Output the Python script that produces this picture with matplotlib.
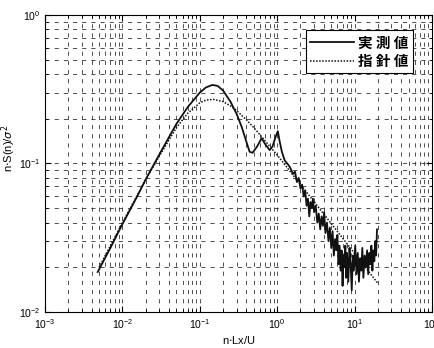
import matplotlib
matplotlib.use("Agg")
import matplotlib.pyplot as plt
from matplotlib.ticker import LogLocator, NullFormatter

plt.rcParams['font.family'] = ['Liberation Sans', 'Noto Sans CJK JP', 'DejaVu Sans']

# measured spectrum (実測値)
meas_x = [0.0048, 0.007, 0.01, 0.015, 0.02, 0.03, 0.05, 0.07, 0.1, 0.12, 0.145, 0.17,
          0.2, 0.25, 0.3, 0.35, 0.4, 0.44, 0.48, 0.55, 0.63, 0.7, 0.8, 0.87, 0.95,
          1.02, 1.08, 1.15, 1.25, 1.35, 1.45,
          1.5, 1.6, 1.7, 1.8, 1.9, 2.0, 2.1, 2.2, 2.3, 2.4, 2.5, 2.6, 2.7, 2.8, 2.9,
          3.0, 3.15, 3.3, 3.45, 3.6, 3.75, 3.9, 4.05, 4.2, 4.4, 4.6, 4.8, 5.0, 5.2,
          5.4, 5.6, 5.8, 6.0, 6.2, 6.4, 6.6, 6.8, 7.0, 7.2, 7.4, 7.6, 7.8, 8.0, 8.3,
          8.6, 8.9, 9.2, 9.5, 9.8, 10.2, 10.6, 11.0, 11.4, 11.8, 12.2, 12.6, 13.0,
          13.5, 14.0, 14.5, 15.0, 15.5, 16.0, 16.5, 17.0, 17.5, 18.0, 18.5, 19.0, 19.5]
meas_y = [0.0186, 0.027, 0.039, 0.058, 0.078, 0.115, 0.185, 0.24, 0.30, 0.325, 0.338, 0.333,
          0.31, 0.26, 0.215, 0.175, 0.14, 0.12, 0.118, 0.13, 0.148, 0.135, 0.123, 0.13, 0.15,
          0.165, 0.14, 0.12, 0.105, 0.10, 0.095,
          0.092, 0.085, 0.088, 0.075, 0.080, 0.068, 0.072, 0.060, 0.066, 0.052, 0.058, 0.044,
          0.055, 0.050, 0.058, 0.047, 0.052, 0.040, 0.046, 0.036, 0.044, 0.038, 0.047, 0.034,
          0.040, 0.030, 0.037, 0.027, 0.035, 0.024, 0.031, 0.026, 0.033, 0.021, 0.028, 0.019,
          0.026, 0.015, 0.024, 0.020, 0.028, 0.017, 0.025, 0.016, 0.027, 0.021, 0.014, 0.024,
          0.019, 0.028, 0.018, 0.025, 0.016, 0.023, 0.019, 0.027, 0.017, 0.024, 0.020, 0.026,
          0.018, 0.025, 0.021, 0.028, 0.019, 0.026, 0.022, 0.030, 0.024, 0.036]

# guideline spectrum (指針値)
guide_x = [0.005, 0.01, 0.02, 0.03, 0.05, 0.07, 0.1, 0.12, 0.15, 0.2, 0.25, 0.3, 0.4,
           0.5, 0.7, 1.0, 1.5, 2.0, 3.0, 5.0, 10.0, 20.0]
guide_y = [0.020, 0.0398, 0.0778, 0.112, 0.1745, 0.218, 0.256, 0.267, 0.270, 0.261, 0.244,
           0.227, 0.197, 0.174, 0.142, 0.114, 0.0873, 0.0723, 0.0553, 0.0394, 0.0248, 0.0156]

legend_labels = ['実 測 値', '指 針 値']
xlabel = 'n$\\cdot$Lx/U'
ylabel = 'n$\\cdot$S(n)/$\\sigma^2$'

fig = plt.figure(figsize=(4.35, 3.48), dpi=100)
ax = fig.add_axes([0.1034, 0.1034, 0.8896, 0.8536])

ax.plot(meas_x, meas_y, color='#111111', lw=1.3, ls='-', label=legend_labels[0])
ax.plot(guide_x, guide_y, color='#111111', lw=1.1, ls=(0, (1, 1)), label=legend_labels[1])

ax.set_xscale('log')
ax.set_yscale('log')
ax.set_xlim(1e-3, 1e2)
ax.set_ylim(1e-2, 1e0)

ax.xaxis.set_major_locator(LogLocator(base=10, numticks=10))
ax.xaxis.set_minor_locator(LogLocator(base=10, subs=range(2, 10), numticks=20))
ax.yaxis.set_major_locator(LogLocator(base=10, numticks=10))
ax.yaxis.set_minor_locator(LogLocator(base=10, subs=range(2, 10), numticks=20))
ax.xaxis.set_minor_formatter(NullFormatter())
ax.yaxis.set_minor_formatter(NullFormatter())

ax.grid(True, which='both', color='#333333', lw=0.6, ls=(0, (5, 6)))
ax.tick_params(which='both', direction='in', top=True, right=True, labelsize=7.5,
               colors='black')
ax.tick_params(axis='x', which='both', pad=4)
ax.tick_params(axis='y', which='both', pad=3)
ax.tick_params(which='major', length=4)
ax.tick_params(which='minor', length=2)
for s in ax.spines.values():
    s.set_linewidth(0.8)

ax.set_xlabel(xlabel, fontsize=8)
ax.xaxis.set_label_coords(0.5, -0.075)
ax.set_ylabel(ylabel, fontsize=8)
ax.yaxis.set_label_coords(-0.07, 0.55)

leg = ax.legend(loc='upper right', bbox_to_anchor=(0.951, 0.949), borderaxespad=0,
                fancybox=False, framealpha=1, edgecolor='black', handlelength=3.0,
                handletextpad=0.3, borderpad=0.3, labelspacing=0.15,
                prop={'family': ['Noto Sans CJK JP'], 'weight': 'bold', 'size': 10.5})
leg.get_frame().set_linewidth(0.8)

fig.savefig('out.png', dpi=100)
